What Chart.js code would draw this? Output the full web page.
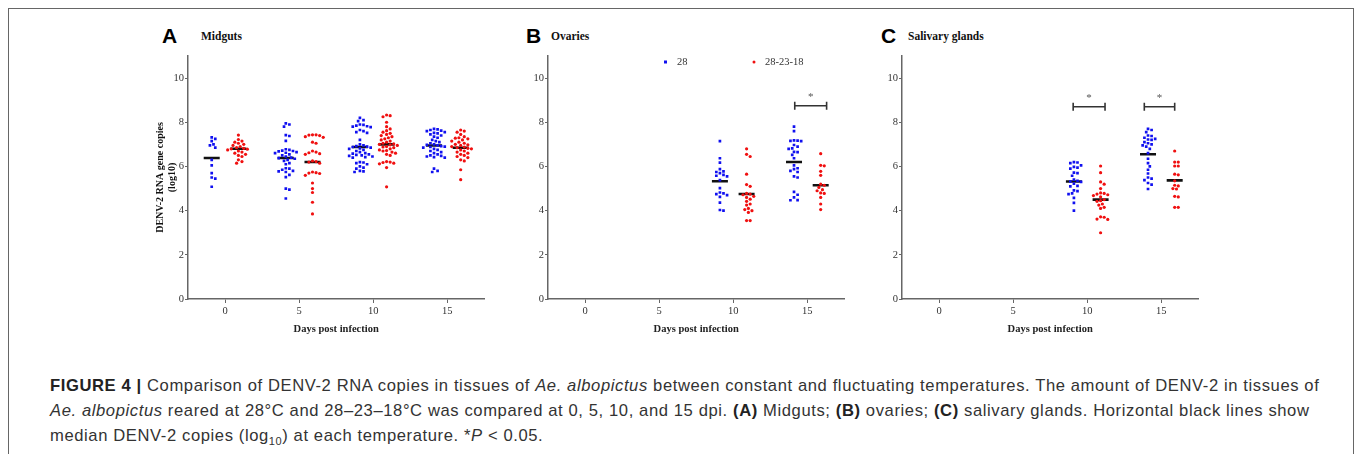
<!DOCTYPE html>
<html>
<head>
<meta charset="utf-8">
<script src="https://cdn.jsdelivr.net/npm/chart.js@4.4.1/dist/chart.umd.min.js"></script>
<style>
  body { margin: 0; width: 1358px; height: 454px; background: #fff; position: relative; overflow: hidden; }
  .frame { position: absolute; left: 8px; top: 8px; width: 1346px; height: 460px; border: 1.5px solid #666; box-sizing: border-box; }
  .panel { position: absolute; top: 40px; width: 355px; height: 300px; }
  .letter { position: absolute; font: bold 21px "Liberation Sans", Arial, sans-serif; color: #000; }
  .ptitle { position: absolute; font: bold 11.5px "Liberation Serif", "Times New Roman", serif; color: #111; }
  .caption { position: absolute; left: 50px; top: 373px; width: 1285px; font: 16.6px "Liberation Sans", Arial, sans-serif; letter-spacing: 0.6px; line-height: 25px; color: #333; }
  .caption b { color: #222; }
</style>
</head>
<body>
<div class="frame"></div>

<div class="letter" style="left:162px; top:24px;">A</div>
<div class="ptitle" style="left:201px; top:30px;">Midguts</div>
<div class="letter" style="left:526px; top:24px;">B</div>
<div class="ptitle" style="left:551px; top:30px;">Ovaries</div>
<div class="letter" style="left:881px; top:24px;">C</div>
<div class="ptitle" style="left:908px; top:30px;">Salivary glands</div>

<div class="panel" style="left:140px;"><canvas id="chartA"></canvas></div>
<div class="panel" style="left:500px;"><canvas id="chartB"></canvas></div>
<div class="panel" style="left:854px;"><canvas id="chartC"></canvas></div>

<div class="caption"><b>FIGURE 4 |</b> Comparison of DENV-2 RNA copies in tissues of <i>Ae. albopictus</i> between constant and fluctuating temperatures. The amount of DENV-2 in tissues of <i>Ae. albopictus</i> reared at 28°C and 28–23–18°C was compared at 0, 5, 10, and 15 dpi. <b>(A)</b> Midguts; <b>(B)</b> ovaries; <b>(C)</b> salivary glands. Horizontal black lines show median DENV-2 copies (log<sub style="font-size:11px">10</sub>) at each temperature. *<i>P</i> &lt; 0.05.</div>

<script>
// days post infection and tick labels
const days = [0, 5, 10, 15];
const xTicks = [0, 5, 10, 15];
const yTicks = [0, 2, 4, 6, 8, 10];
const seriesNames = ['28', '28-23-18'];

// midguts (log10 copies), one list per day
const midgut28 = [
  [7.32, 7.25, 7.15, 7.0, 6.95, 6.85, 6.3, 6.05, 5.7, 5.5, 5.45, 5.08],
  [7.95, 7.9, 7.8, 7.42, 7.38, 7.16, 6.78, 6.75, 6.72, 6.7, 6.68, 6.65, 6.62, 6.6, 6.55, 6.5, 6.45, 6.4, 6.38, 6.35, 6.3, 6.25, 6.15, 6.1, 5.92, 5.9, 5.85, 5.8, 5.78, 5.75, 5.62, 5.52, 5.0, 4.95, 4.55],
  [8.2, 8.1, 8.05, 7.9, 7.88, 7.85, 7.82, 7.8, 7.78, 7.65, 7.6, 7.55, 7.52, 7.2, 7.0, 6.95, 6.92, 6.9, 6.88, 6.85, 6.82, 6.8, 6.75, 6.7, 6.65, 6.6, 6.58, 6.55, 6.52, 6.5, 6.48, 6.45, 6.42, 6.4, 6.2, 6.18, 6.15, 6.1, 6.0, 5.95, 5.9, 5.8, 5.78, 5.75],
  [7.7, 7.68, 7.65, 7.62, 7.6, 7.55, 7.52, 7.5, 7.45, 7.4, 7.35, 7.3, 7.2, 7.15, 7.1, 7.05, 7.0, 6.98, 6.95, 6.92, 6.9, 6.88, 6.85, 6.8, 6.75, 6.7, 6.65, 6.6, 6.55, 6.5, 6.48, 6.45, 6.42, 6.4, 5.9, 5.8, 5.75]
];
const midgutFluct = [
  [7.42, 7.22, 7.15, 7.1, 7.05, 7.0, 6.95, 6.9, 6.85, 6.82, 6.8, 6.78, 6.75, 6.7, 6.65, 6.6, 6.55, 6.5, 6.45, 6.3, 6.22, 6.15],
  [7.43, 7.43, 7.42, 7.4, 7.35, 7.32, 7.1, 7.05, 6.7, 6.65, 6.62, 6.58, 6.55, 6.25, 6.22, 6.2, 6.15, 5.75, 5.72, 5.7, 5.68, 5.6, 5.25, 5.0, 4.82, 4.38, 3.85],
  [8.33, 8.3, 8.25, 8.0, 7.8, 7.7, 7.62, 7.55, 7.5, 7.45, 7.4, 7.35, 7.3, 7.25, 7.2, 7.15, 7.1, 7.05, 7.02, 7.0, 6.98, 6.95, 6.9, 6.88, 6.85, 6.8, 6.75, 6.72, 6.7, 6.65, 6.6, 6.55, 6.5, 6.22, 6.2, 6.18, 6.15, 6.12, 5.95, 5.08],
  [7.65, 7.6, 7.55, 7.45, 7.35, 7.3, 7.28, 7.25, 7.2, 7.15, 7.1, 7.05, 7.0, 6.98, 6.95, 6.9, 6.88, 6.85, 6.82, 6.8, 6.75, 6.7, 6.65, 6.6, 6.55, 6.5, 6.45, 6.4, 6.3, 6.25, 5.85, 5.4]
];
const midgutMed28 = [6.38, 6.38, 6.88, 6.95];
const midgutMedFluct = [6.8, 6.2, 7.0, 6.85];

// ovaries
const ovary28 = [
  [], [],
  [7.15, 6.37, 6.17, 5.88, 5.78, 5.75, 5.7, 5.62, 5.58, 5.55, 5.38, 5.02, 4.82, 4.78, 4.75, 4.7, 4.62, 4.36, 4.03, 4.0],
  [7.8, 7.6, 7.18, 7.17, 7.16, 7.15, 6.97, 6.9, 6.82, 6.8, 6.66, 6.65, 6.52, 6.37, 6.05, 5.92, 5.88, 5.8, 5.75, 5.55, 5.5, 4.85, 4.72, 4.6, 4.48, 4.47]
];
const ovaryFluct = [
  [], [],
  [6.8, 6.55, 6.45, 5.65, 5.18, 5.1, 4.78, 4.75, 4.72, 4.65, 4.6, 4.52, 4.42, 4.3, 4.25, 4.1, 4.05, 4.0, 3.92, 3.55, 3.55],
  [6.58, 6.05, 6.03, 5.78, 5.6, 5.2, 5.15, 5.05, 4.95, 4.9, 4.8, 4.78, 4.6, 4.3, 4.05]
];
const ovaryMed28 = [null, null, 5.33, 6.2];
const ovaryMedFluct = [null, null, 4.75, 5.15];

// salivary glands
const saliv28 = [
  [], [],
  [6.2, 6.18, 6.15, 6.05, 5.98, 5.95, 5.9, 5.72, 5.7, 5.58, 5.4, 5.35, 5.32, 5.3, 5.22, 5.12, 5.1, 4.92, 4.88, 4.78, 4.75, 4.58, 4.35, 4.0],
  [7.7, 7.65, 7.55, 7.4, 7.38, 7.3, 7.25, 7.22, 7.2, 7.1, 7.05, 7.0, 6.95, 6.9, 6.8, 6.6, 6.35, 6.15, 6.0, 5.85, 5.68, 5.5, 5.45, 5.38, 5.25, 5.18, 4.98]
];
const salivFluct = [
  [], [],
  [6.02, 5.72, 5.3, 5.2, 5.0, 4.8, 4.78, 4.75, 4.72, 4.68, 4.62, 4.5, 4.45, 4.42, 4.3, 4.25, 4.15, 4.1, 3.72, 3.7, 3.62, 3.6, 3.0],
  [6.7, 6.2, 6.2, 6.02, 6.02, 5.65, 5.62, 5.35, 5.15, 5.12, 5.0, 4.98, 4.65, 4.62, 4.15, 4.15]
];
const salivMed28 = [null, null, 5.32, 6.55];
const salivMedFluct = [null, null, 4.5, 5.37];

// significant comparisons (*P < 0.05): day spans and bar height
const sigOvary = [{ from: 14.15, to: 16.3, y: 8.75 }];
const sigSaliv = [{ from: 9.05, to: 11.2, y: 8.7 }, { from: 13.85, to: 15.9, y: 8.7 }];

const BLUE = '#1010f0';
const RED = '#f01010';
const AXIS = '#666';
const TXT = '#333';
const SERIF = '"Liberation Serif", "Times New Roman", serif';

// simple beeswarm so dots don't sit on top of each other
function swarm(values, center) {
  const pxY = 22.1, pxX = 14.9, d = 3.4, step = 1.8;
  const placed = [];
  const out = [];
  values.slice().sort((a, b) => b - a).forEach((v) => {
    const yp = v * pxY;
    let k = 0, off = 0;
    while (true) {
      off = k === 0 ? 0 : (k % 2 ? 1 : -1) * Math.ceil(k / 2) * step;
      const hit = placed.some((p) => Math.hypot(p[0] - off, p[1] - yp) < d);
      if (!hit) break;
      k++;
    }
    placed.push([off, yp]);
    out.push({ x: center + off / pxX, y: v });
  });
  return out;
}

function points(groups, shift) {
  let all = [];
  groups.forEach((vals, i) => { all = all.concat(swarm(vals, days[i] + shift)); });
  return all;
}

function medians(meds, shift) {
  return meds.map((m, i) => m === null ? null : { x: days[i] + shift, y: m }).filter((p) => p);
}

const bracketPlugin = {
  id: 'brackets',
  afterDatasetsDraw(chart, args, opts) {
    const { ctx, scales } = chart;
    (opts.list || []).forEach((b) => {
      const x1 = scales.x.getPixelForValue(b.from);
      const x2 = scales.x.getPixelForValue(b.to);
      const y = scales.y.getPixelForValue(b.y);
      ctx.save();
      ctx.strokeStyle = '#333';
      ctx.lineWidth = 1.6;
      ctx.beginPath();
      ctx.moveTo(x1, y); ctx.lineTo(x2, y);
      ctx.moveTo(x1, y - 4); ctx.lineTo(x1, y + 4);
      ctx.moveTo(x2, y - 4); ctx.lineTo(x2, y + 4);
      ctx.stroke();
      ctx.fillStyle = '#555';
      ctx.font = '11px ' + SERIF;
      ctx.textAlign = 'center';
      ctx.fillText('*', (x1 + x2) / 2, y - 6);
      ctx.restore();
    });
  }
};

const keyPlugin = {
  id: 'key',
  afterDraw(chart, args, opts) {
    if (!opts.show) return;
    const { ctx, chartArea } = chart;
    const y = chartArea.top + 6;
    ctx.save();
    ctx.font = '10.5px ' + SERIF;
    ctx.textBaseline = 'middle';
    ctx.fillStyle = BLUE;
    ctx.fillRect(chartArea.left + 116, y - 1.5, 3, 3);
    ctx.fillStyle = TXT;
    ctx.fillText(seriesNames[0], chartArea.left + 129, y);
    ctx.fillStyle = RED;
    ctx.beginPath(); ctx.arc(chartArea.left + 206, y, 1.5, 0, Math.PI * 2); ctx.fill();
    ctx.fillStyle = TXT;
    ctx.fillText(seriesNames[1], chartArea.left + 217, y);
    ctx.restore();
  }
};

function makeChart(id, g28, gF, m28, mF, sig, withYTitle, withKey) {
  return new Chart(document.getElementById(id), {
    type: 'scatter',
    data: {
      datasets: [
        { label: seriesNames[0], data: points(g28, -0.9), pointStyle: 'rect', pointRadius: 1.9, backgroundColor: BLUE, borderWidth: 0 },
        { label: seriesNames[1], data: points(gF, 0.9), pointStyle: 'circle', pointRadius: 1.6, backgroundColor: RED, borderWidth: 0 },
        { label: 'median 28', data: medians(m28, -0.9), pointStyle: 'line', pointRadius: 8, borderColor: '#111', borderWidth: 2.6 },
        { label: 'median 28-23-18', data: medians(mF, 0.9), pointStyle: 'line', pointRadius: 8, borderColor: '#111', borderWidth: 2.6 }
      ]
    },
    plugins: [bracketPlugin, keyPlugin],
    options: {
      responsive: true,
      maintainAspectRatio: false,
      animation: false,
      layout: { padding: { top: 16, right: 10, left: 0, bottom: 0 } },
      plugins: {
        legend: { display: false },
        tooltip: { enabled: false },
        brackets: { list: sig },
        key: { show: withKey }
      },
      scales: {
        x: {
          type: 'linear',
          min: -2.5,
          max: 17.5,
          afterBuildTicks: (s) => { s.ticks = xTicks.map((v) => ({ value: v })); },
          afterFit: (s) => { s.height = 41; },
          ticks: { color: TXT, font: { family: SERIF, size: 10.5 }, padding: 2, maxRotation: 0 },
          grid: { drawOnChartArea: false, drawTicks: true, tickLength: 4, color: AXIS, lineWidth: 1 },
          border: { display: true, color: AXIS, width: 1.5 },
          title: { display: true, text: 'Days post infection', color: '#222', font: { family: SERIF, size: 10.5, weight: 'bold' }, padding: { top: 0, bottom: 4 } }
        },
        y: {
          min: 0,
          max: 11,
          afterBuildTicks: (s) => { s.ticks = yTicks.map((v) => ({ value: v })); },
          afterFit: (s) => { s.width = 48; },
          ticks: { color: TXT, font: { family: SERIF, size: 10.5 }, padding: 1 },
          grid: { drawOnChartArea: false, drawTicks: true, tickLength: 3, color: AXIS, lineWidth: 1 },
          border: { display: true, color: AXIS, width: 1.5 },
          title: { display: withYTitle, text: ['DENV-2 RNA gene copies', '(log10)'], color: '#111', font: { family: SERIF, size: 10, weight: 'bold' }, padding: { top: 14, bottom: 0 } }
        }
      }
    }
  });
}

makeChart('chartA', midgut28, midgutFluct, midgutMed28, midgutMedFluct, [], true, false);
makeChart('chartB', ovary28, ovaryFluct, ovaryMed28, ovaryMedFluct, sigOvary, false, true);
makeChart('chartC', saliv28, salivFluct, salivMed28, salivMedFluct, sigSaliv, false, false);
</script>
</body>
</html>
